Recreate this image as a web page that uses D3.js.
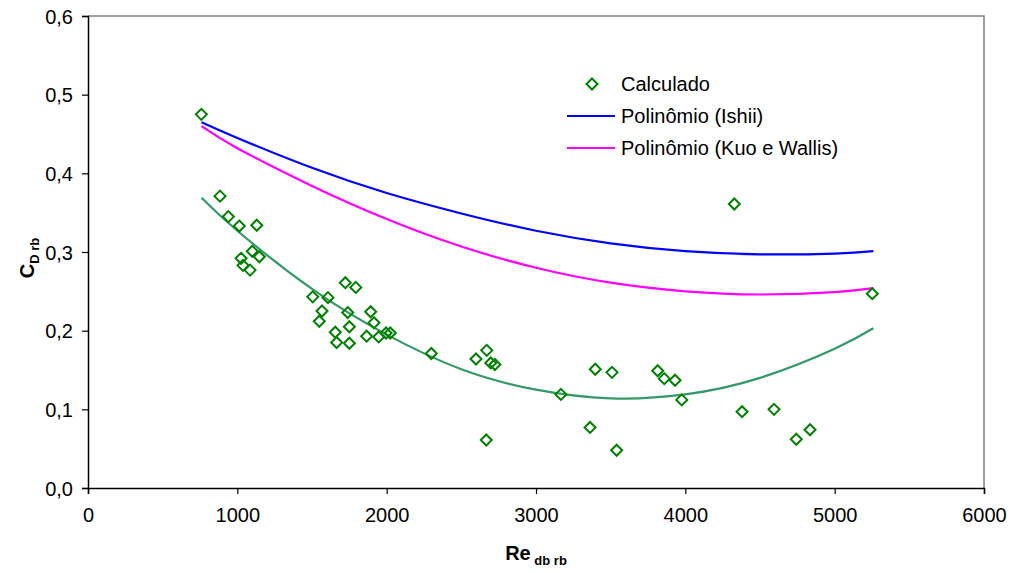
<!DOCTYPE html>
<html><head><meta charset="utf-8">
<script src="https://cdn.jsdelivr.net/npm/d3@7"></script>
<style>
html,body{margin:0;padding:0;background:#fff;}
svg{display:block;font-family:"Liberation Sans",Arial,sans-serif;}
</style></head>
<body><svg id="c" width="1010" height="573"></svg>
<script>
// Calculado (Re_db_rb, C_D_rb)
const calcRe = [759,884,940,1013,1130,1100,1147,1025,1038,1085,
  1723,1793,1505,1607,1567,1549,1739,1750,1656,1665,1750,
  1893,1915,1866,1947,1996,2024,2299,2598,2670,2697,2725,2667,
  3167,3362,3397,3509,3540,3815,3859,3931,3976,4328,5252,4380,4594,4743,4835];
const calcCd = [0.475,0.371,0.345,0.333,0.334,0.301,0.294,0.292,0.283,0.277,
  0.261,0.255,0.243,0.242,0.225,0.212,0.223,0.205,0.198,0.185,0.184,
  0.224,0.210,0.193,0.192,0.197,0.197,0.171,0.164,0.175,0.159,0.157,0.061,
  0.119,0.077,0.151,0.147,0.048,0.149,0.139,0.137,0.112,0.361,0.247,0.097,0.100,0.062,0.074];
// trendline samples
const trendRe = [760,1000,1500,2000,2500,3000,3500,4000,4500,5000,5259];
const ishiiCd = [0.465,0.445,0.407,0.375,0.349,0.327,0.311,0.301,0.297,0.298,0.301];
const kuoCd   = [0.460,0.432,0.384,0.342,0.307,0.280,0.261,0.250,0.246,0.249,0.254];
const calcFitCd = [0.369,0.327,0.253,0.195,0.151,0.125,0.114,0.119,0.140,0.177,0.203];
const xTicks = [0,1000,2000,3000,4000,5000,6000];
const yTicks = [0,0.1,0.2,0.3,0.4,0.5,0.6];
const legendLabels = ["Calculado","Polinômio (Ishii)","Polinômio (Kuo e Wallis)"];

const svg = d3.select("#c");
const L=88,R=984,T=16,B=488;
const x = d3.scaleLinear().domain([0,6000]).range([L,R]);
const y = d3.scaleLinear().domain([0,0.6]).range([B,T]);
const FS = 20;

// plot border (top, right)
svg.append("path").attr("d",`M${L},${T}H${R}V${B}`).attr("fill","none").attr("stroke","#808080").attr("stroke-width",1.5);

// axes
const xa = svg.append("g").attr("transform",`translate(0,${B})`)
  .call(d3.axisBottom(x).tickValues(xTicks).tickSize(6).tickPadding(14).tickFormat(d3.format("d")));
const ya = svg.append("g").attr("transform",`translate(${L},0)`)
  .call(d3.axisLeft(y).tickValues(yTicks).tickSize(6).tickPadding(9).tickFormat(d=>d3.format(".1f")(d).replace(".",",")));
[xa,ya].forEach(g=>{
  g.select(".domain").attr("stroke","#000").attr("stroke-width",1.5);
  g.selectAll(".tick line").attr("stroke","#000").attr("stroke-width",1.2);
  g.selectAll(".tick text").attr("font-size",FS).attr("fill","#000").attr("font-family","Liberation Sans, Arial, sans-serif");
});
xa.selectAll(".tick text").attr("dy","0.71em");
ya.selectAll(".tick text").attr("dy","0.35em");

// curves
const line = d3.line().x((d)=>x(d[0])).y(d=>y(d[1])).curve(d3.curveNatural);
const curves = [
  {v:ishiiCd, c:"#0000FF"},
  {v:kuoCd, c:"#FF00FF"},
  {v:calcFitCd, c:"#339966"}
];
curves.forEach(cv=>{
  svg.append("path").datum(trendRe.map((r,i)=>[r,cv.v[i]]))
    .attr("d",line).attr("fill","none").attr("stroke",cv.c).attr("stroke-width",2.2);
});

// points
const diamond = (cx,cy,s)=>`M${cx},${cy-s}L${cx+s},${cy}L${cx},${cy+s}L${cx-s},${cy}Z`;
svg.append("g").selectAll("path").data(calcRe.map((r,i)=>[r,calcCd[i]])).join("path")
  .attr("d",d=>diamond(x(d[0]),y(d[1]),5.5))
  .attr("fill","none").attr("stroke","#008000").attr("stroke-width",2);

// legend
const lg = svg.append("g");
lg.append("path").attr("d",diamond(592,84,5.5)).attr("fill","none").attr("stroke","#008000").attr("stroke-width",2);
lg.append("line").attr("x1",567).attr("x2",615).attr("y1",116).attr("y2",116).attr("stroke","#0000FF").attr("stroke-width",2.2);
lg.append("line").attr("x1",567).attr("x2",615).attr("y1",148).attr("y2",148).attr("stroke","#FF00FF").attr("stroke-width",2.2);
legendLabels.forEach((t,i)=>{
  lg.append("text").attr("x",621).attr("y",84+i*32).attr("dy","0.35em").attr("font-size",FS).attr("fill","#000").text(t);
});

// axis titles
const yt = svg.append("text").attr("transform","translate(34,258) rotate(-90)")
  .attr("text-anchor","middle").attr("font-weight","bold").attr("font-size",FS).attr("fill","#000");
yt.append("tspan").text("C");
yt.append("tspan").attr("font-size",13).attr("dy",5).text("D rb");
const xt = svg.append("text").attr("x",536).attr("y",560)
  .attr("text-anchor","middle").attr("font-weight","bold").attr("font-size",FS).attr("fill","#000");
xt.append("tspan").text("Re");
xt.append("tspan").attr("font-size",13).attr("dy",5).text(" db rb");
</script></body></html>
